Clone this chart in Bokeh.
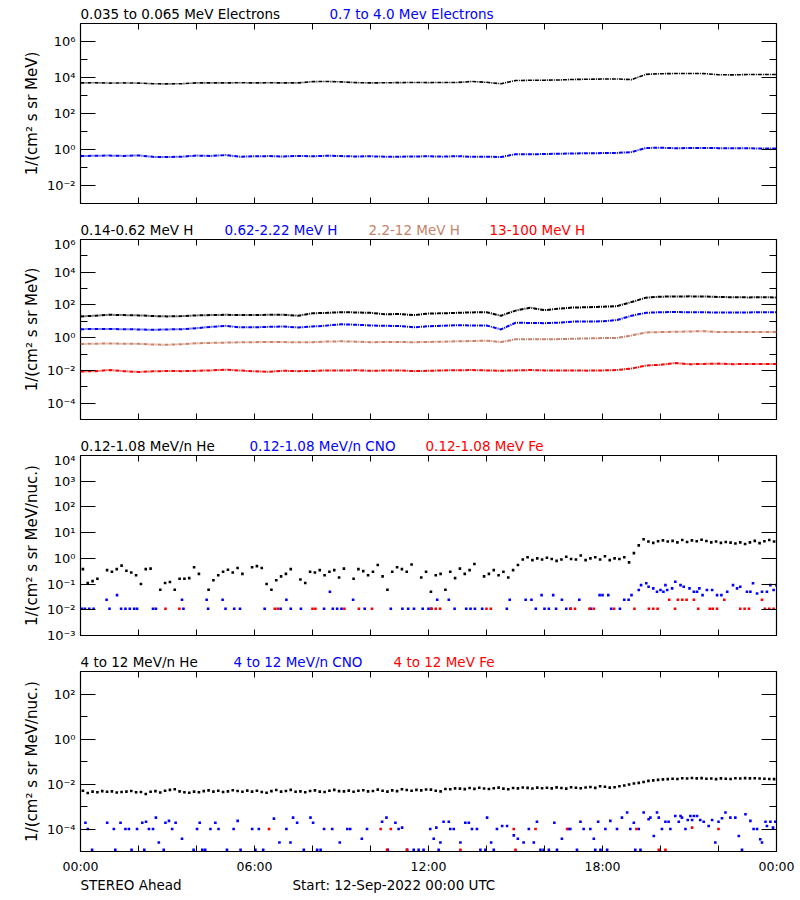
import numpy as np
from bokeh.plotting import figure
from bokeh.layouts import column
from bokeh.models import FixedTicker, LinearAxis, LogAxis
from bokeh.core.properties import value
from bokeh.embed import file_html
from bokeh.resources import INLINE

FONT = "DejaVu Sans"
BLACK, BLUE, BROWN, RED = "#000000", "#0000ff", "#c8826a", "#ff0000"

# ---------------- time axis ----------------
x_tick_hours = list(range(0, 25, 2))
x_tick_labels = {0: "00:00", 6: "06:00", 12: "12:00", 18: "18:00", 24: "00:00"}
hours_30min = np.arange(49) * 0.5          # 30-min samples, 00:00 .. 24:00
hours_10min = (np.arange(144) + 0.5) / 6.0  # 10-min samples

# ---------------- panel 1 : electrons ----------------
elec_lo = [5000, 5100, 4900, 5000, 4900, 4500, 4400, 4500, 5000, 5000,
           5000, 5100, 5000, 5100, 5000, 5000, 5900, 6000, 5700, 5200,
           5000, 5100, 5200, 5300, 5200, 5300, 5300, 6000, 5400, 4500,
           6800, 7000, 7100, 7300, 7800, 8000, 8200, 8300, 7600, 15000,
           16200, 16600, 16700, 16500, 14200, 14000, 14600, 14700, 14800]
elec_hi = [0.43, 0.45, 0.46, 0.44, 0.47, 0.39, 0.38, 0.40, 0.46, 0.44,
           0.49, 0.40, 0.42, 0.43, 0.41, 0.44, 0.42, 0.45, 0.43, 0.41,
           0.42, 0.40, 0.40, 0.41, 0.42, 0.40, 0.43, 0.39, 0.40, 0.38,
           0.55, 0.54, 0.56, 0.58, 0.60, 0.62, 0.63, 0.64, 0.72, 1.22,
           1.25, 1.18, 1.20, 1.23, 1.19, 1.16, 1.18, 1.12, 1.15]

# ---------------- panel 2 : protons ----------------
h_014_062 = [20, 22, 25, 24, 23, 21, 20, 21, 23, 24,
             25, 24, 24, 25, 25, 22, 31, 33, 36, 35,
             33, 27, 28, 24, 30, 31, 33, 35, 36, 22,
             45, 68, 48, 60, 70, 72, 78, 85, 150, 280,
             320, 330, 335, 330, 310, 295, 290, 292, 290]
h_062_222 = [3.3, 3.4, 3.4, 3.3, 3.2, 3.0, 3.2, 3.3, 3.8, 4.6,
             5.3, 4.3, 4.3, 4.6, 4.8, 4.2, 4.8, 5.5, 6.6, 6.2,
             5.6, 5.3, 5.2, 4.3, 5.0, 5.4, 5.8, 5.6, 5.6, 3.2,
             8.1, 8.0, 7.7, 8.3, 9.7, 9.7, 10.0, 12.0, 22.0, 33.0,
             36.0, 37.0, 36.0, 36.0, 34.0, 35.0, 35.0, 36.0, 36.0]
h_22_12 = [0.41, 0.43, 0.44, 0.43, 0.42, 0.38, 0.37, 0.40, 0.46, 0.48,
           0.50, 0.52, 0.53, 0.55, 0.54, 0.52, 0.53, 0.58, 0.60, 0.57,
           0.53, 0.54, 0.54, 0.53, 0.55, 0.57, 0.60, 0.62, 0.66, 0.54,
           0.79, 0.80, 0.80, 0.82, 0.86, 0.90, 0.95, 0.97, 1.37, 2.1,
           2.2, 2.3, 2.4, 2.5, 2.2, 2.2, 2.2, 2.2, 2.2]
h_13_100 = [0.0085, 0.0090, 0.0105, 0.0090, 0.0080, 0.0088, 0.0092, 0.0090, 0.0095, 0.0100,
            0.0110, 0.0098, 0.0088, 0.0082, 0.0095, 0.0090, 0.0092, 0.0100, 0.0098, 0.0102,
            0.0095, 0.0098, 0.0100, 0.0090, 0.0095, 0.0100, 0.0102, 0.0105, 0.0100, 0.0095,
            0.0100, 0.0105, 0.0100, 0.0098, 0.0100, 0.0097, 0.0100, 0.0105, 0.0130, 0.0200,
            0.0220, 0.0280, 0.0240, 0.0250, 0.0260, 0.0240, 0.0250, 0.0245, 0.0250]

# ---------------- panel 3 : 0.12-1.08 MeV/n heavy ions ----------------
he_low = [0.38, 0.11, 0.13, 0.16, None, 0.35,
          0.30, 0.38, 0.52, 0.33, 0.28, 0.22,
          0.10, 0.38, 0.40, None, 0.06, 0.11,
          0.12, 0.06, 0.16, 0.16, 0.17, 0.45,
          0.25, None, 0.06, 0.14, 0.22, 0.30,
          0.36, 0.28, 0.42, 0.25, None, 0.45,
          0.50, 0.42, 0.10, 0.06, 0.14, 0.20,
          0.25, 0.38, None, 0.15, 0.11, 0.30,
          0.28, 0.35, 0.22, 0.30, 0.35, 0.18,
          0.40, None, 0.16, 0.38, 0.32, 0.22,
          0.30, 0.55, 0.20, 0.06, 0.30, 0.45,
          0.38, 0.30, 0.58, None, 0.18, 0.30,
          0.05, 0.22, 0.25, 0.06, 0.30, 0.17,
          0.40, 0.25, 0.35, 0.60, None, 0.20,
          0.25, 0.35, 0.22, 0.30, 0.18, 0.35,
          0.55, 0.90, 1.10, 0.85, 1.00, 0.90,
          1.05, 0.95, 0.80, 0.90, 1.15, 0.95,
          0.90, 1.30, 0.85, 1.00, 1.10, 0.90,
          1.20, 0.85, 1.00, 0.95, 1.10, 0.70,
          1.60, 3.20, 5.50, 4.50, 4.00, 4.60,
          5.00, 4.50, 4.80, 4.20, 5.20, 4.30,
          5.00, 4.60, 5.30, 4.70, 4.20, 4.50,
          4.00, 4.30, 4.10, 3.80, 4.20, 3.60,
          4.20, 4.80, 3.90, 4.60, 5.20, 4.50]
cno_low_points = [
    (0.05, 0.011), (0.15, 0.011), (0.3, 0.011), (0.45, 0.011), (0.9, 0.0245), (1.0, 0.011),
    (1.26, 0.037), (1.4, 0.011), (1.55, 0.011), (1.7, 0.011), (1.85, 0.011), (1.95, 0.011),
    (2.5, 0.011), (2.6, 0.011), (3.5, 0.0245), (3.55, 0.011), (4.35, 0.0245), (4.4, 0.011),
    (4.9, 0.0245), (5.0, 0.011), (5.3, 0.011), (5.5, 0.011), (6.35, 0.011), (6.9, 0.011),
    (7.1, 0.0245), (7.25, 0.011), (7.6, 0.011), (8.4, 0.011), (8.6, 0.05), (8.7, 0.011),
    (8.85, 0.011), (9.0, 0.011), (9.4, 0.0245), (9.8, 0.011), (10.7, 0.011),
    (11.1, 0.011), (11.3, 0.011), (11.5, 0.011), (11.8, 0.011), (12.0, 0.011), (12.1, 0.011),
    (12.3, 0.0245), (12.7, 0.0245), (12.9, 0.011), (13.3, 0.011), (13.45, 0.011), (13.6, 0.011),
    (13.85, 0.011), (14.7, 0.011), (14.8, 0.0245), (15.35, 0.0245), (15.55, 0.0245), (15.7, 0.011),
    (15.9, 0.037), (16.0, 0.011), (16.15, 0.011), (16.3, 0.037), (16.4, 0.011), (16.6, 0.0245),
    (16.75, 0.011), (16.9, 0.011), (17.2, 0.0245), (17.6, 0.011), (17.9, 0.037), (18.0, 0.037),
    (18.2, 0.037), (18.3, 0.011), (18.6, 0.011), (18.75, 0.0245), (18.9, 0.0245), (19.0, 0.037),
    (19.25, 0.059), (19.33, 0.091), (19.51, 0.107), (19.59, 0.079), (19.75, 0.068), (19.88, 0.050),
    (20.0, 0.059), (20.1, 0.050), (20.17, 0.091), (20.23, 0.059), (20.4, 0.068), (20.51, 0.123),
    (20.69, 0.091), (20.8, 0.079), (21.0, 0.068), (21.15, 0.050), (21.26, 0.050), (21.34, 0.068),
    (21.45, 0.037), (21.6, 0.059), (21.78, 0.059), (21.95, 0.037), (22.1, 0.037), (22.3, 0.050),
    (22.5, 0.091), (22.64, 0.068), (22.75, 0.079), (22.98, 0.050), (23.1, 0.050), (23.19, 0.107),
    (23.33, 0.043), (23.5, 0.050), (23.67, 0.050), (23.79, 0.091), (23.9, 0.059), (24.0, 0.091)]
fe_low_points = [
    (2.93, 0.011), (3.41, 0.011), (6.7, 0.011), (6.8, 0.011), (8.0, 0.011), (8.1, 0.011),
    (9.1, 0.011), (9.6, 0.011), (10.05, 0.011), (12.1, 0.011), (12.25, 0.011), (12.4, 0.011),
    (14.0, 0.011), (14.15, 0.011), (16.9, 0.011), (17.05, 0.011), (17.55, 0.011), (17.7, 0.011),
    (18.4, 0.011), (19.1, 0.011), (19.6, 0.011), (19.75, 0.011), (19.9, 0.011), (20.3, 0.0245),
    (20.5, 0.011), (20.6, 0.0245), (20.75, 0.0245), (20.9, 0.0245), (21.15, 0.0245), (21.3, 0.011),
    (21.7, 0.011), (21.8, 0.011), (21.95, 0.011), (22.2, 0.0245), (22.75, 0.011), (22.9, 0.011),
    (23.05, 0.011), (23.5, 0.0245), (23.6, 0.011), (23.75, 0.011), (23.9, 0.011)]

# ---------------- panel 4 : 4-12 MeV/n heavy ions ----------------
he_high = [.0050, .0040, .0046, .0043, .0048, .0045, .0047, .0042, .0044, .0046, .0049, .0043,
           .0044, .0036, .0045, .0048, .0042, .0050, .0055, .0058, .0047, .0043, .0041, .0046,
           .0043, .0048, .0052, .0046, .0050, .0044, .0047, .0053, .0049, .0045, .0051, .0046,
           .0050, .0044, .0041, .0048, .0054, .0046, .0049, .0055, .0045, .0047, .0043, .0049,
           .0052, .0046, .0044, .0050, .0055, .0048, .0047, .0051, .0045, .0050, .0053, .0047,
           .0049, .0056, .0050, .0046, .0052, .0048, .0058, .0054, .0050, .0055, .0052, .0057,
           .0056, .0050, .0047, .0060, .0058, .0064, .0062, .0059, .0066, .0061, .0068, .0063,
           .0060, .0065, .0069, .0062, .0058, .0066, .0064, .0070, .0067, .0063, .0069, .0065,
           .0068, .0064, .0071, .0066, .0062, .0072, .0068, .0065, .0070, .0074, .0067, .0079,
           .0075, .0069, .0072, .0080, .0086, .0095, .0105, .0112, .0123, .0138, .0145, .0152,
           .0160, .0165, .0172, .0168, .0180, .0175, .0185, .0178, .0182, .0170, .0176, .0165,
           .0178, .0172, .0168, .0180, .0175, .0183, .0177, .0181, .0176, .0172, .0168, .0165]
cno_high_points = [
    (0.17, 1.9e-4), (0.25, 1.0e-4), (0.4, 1.2e-5), (0.92, 1.9e-4), (1.15, 1.0e-4), (1.2, 1.2e-5),
    (1.38, 1.9e-4), (1.55, 1.0e-4), (1.67, 1.0e-4), (1.76, 1.2e-5), (1.95, 1.0e-4), (2.13, 1.9e-4),
    (2.2, 1.2e-5), (2.26, 2.1e-4), (2.36, 1.0e-4), (2.5, 1.0e-4), (2.6, 3.2e-4), (2.7, 2.5e-5),
    (2.87, 1.2e-5), (2.93, 1.9e-4), (3.05, 2.3e-4), (3.16, 1.0e-4), (3.28, 1.9e-4), (3.5, 3.7e-5),
    (3.9, 1.2e-5), (4.02, 1.0e-4), (4.11, 1.9e-4), (4.2, 1.2e-5), (4.3, 1.2e-5), (4.48, 1.0e-4),
    (4.65, 1.9e-4), (4.76, 1.0e-4), (5.05, 1.2e-5), (5.28, 1.0e-4), (5.42, 2.3e-4), (5.52, 1.2e-5),
    (5.92, 1.0e-4), (6.03, 1.2e-5), (6.15, 1.0e-4), (6.3, 1.2e-5), (6.67, 2.9e-4), (6.86, 2.5e-5),
    (7.1, 1.0e-4), (7.24, 2.5e-5), (7.33, 3.2e-4), (7.47, 1.9e-4), (7.7, 1.2e-5), (7.93, 3.2e-4),
    (8.02, 1.9e-4), (8.16, 1.2e-5), (8.28, 1.2e-5), (8.4, 1.0e-4), (8.68, 1.0e-4), (8.94, 2.5e-5),
    (9.2, 1.0e-4), (9.3, 1.0e-4), (9.7, 3.7e-5), (9.88, 1.0e-4), (10.4, 2.1e-4), (10.55, 3.2e-4),
    (10.6, 1.2e-5), (10.86, 1.9e-4), (10.97, 1.0e-4),
    (11.09, 1.15e-4), (11.26, 1.2e-5), (11.49, 1.2e-5), (11.66, 1.2e-5), (11.83, 1.2e-5),
    (12.06, 1.0e-4), (12.18, 3.7e-5), (12.27, 1.15e-4), (12.35, 1.2e-5), (12.41, 2.5e-5),
    (12.52, 2.1e-4), (12.7, 2.1e-4), (12.75, 1.0e-4), (12.87, 1.0e-4), (13.1, 2.5e-5),
    (13.27, 1.9e-4), (13.39, 1.9e-4), (13.5, 1.0e-4), (13.67, 1.0e-4), (13.79, 1.2e-5),
    (13.96, 1.2e-5), (14.02, 3.2e-4), (14.16, 2.5e-5), (14.25, 1.2e-5), (14.36, 1.0e-4),
    (14.54, 1.35e-4), (14.71, 1.35e-4), (14.94, 5.2e-5), (15.08, 3.7e-5), (15.28, 2.5e-5),
    (15.46, 1.0e-4), (15.63, 2.5e-5), (15.74, 2.1e-4), (15.86, 1.2e-5), (15.97, 1.2e-5),
    (16.15, 1.2e-5), (16.34, 1.9e-4), (16.43, 1.2e-5), (16.6, 3.7e-5), (16.83, 1.0e-4),
    (16.89, 1.0e-4), (17.12, 1.2e-5), (17.24, 2.1e-4), (17.35, 1.0e-4), (17.58, 1.0e-4),
    (17.7, 3.7e-5), (17.75, 1.2e-5), (17.85, 2.1e-4), (17.93, 1.2e-5), (18.1, 1.0e-4),
    (18.16, 1.2e-5), (18.27, 2.3e-4), (18.5, 1.0e-4), (18.67, 3.2e-4), (18.85, 5.4e-4),
    (18.96, 1.0e-4), (19.08, 1.9e-4), (19.13, 1.2e-5), (19.25, 1.0e-4), (19.31, 1.2e-5),
    (19.42, 5.4e-4), (19.59, 2.7e-4), (19.65, 3.2e-4), (19.77, 4.9e-5), (19.88, 5.4e-4),
    (19.94, 3.2e-4), (20.05, 1.0e-4), (20.17, 2.1e-4), (20.28, 2.1e-4), (20.34, 1.0e-4),
    (20.51, 3.8e-4), (20.63, 2.1e-4), (20.69, 3.8e-4), (20.74, 3.2e-4), (20.86, 1.0e-4),
    (20.94, 2.5e-4), (21.03, 3.8e-4), (21.09, 2.5e-4), (21.15, 3.8e-4), (21.26, 3.8e-4),
    (21.37, 2.5e-4), (21.49, 2.1e-4), (21.66, 1.35e-4), (21.78, 2.5e-4), (21.89, 2.5e-5),
    (22.0, 2.1e-4), (22.12, 3.0e-4), (22.24, 5.4e-4), (22.41, 3.2e-4), (22.58, 3.2e-4),
    (22.7, 4.9e-5), (22.81, 1.2e-5), (22.93, 4.5e-4), (23.1, 2.3e-4), (23.21, 1.0e-4),
    (23.33, 1.0e-4), (23.44, 3.5e-5), (23.5, 2.5e-5), (23.62, 2.1e-4), (23.67, 1.35e-4),
    (23.79, 2.1e-4), (23.88, 1.15e-4), (23.96, 2.1e-4)]
fe_high_points = [
    (6.5, 1.0e-4), (10.35, 1.0e-4), (10.57, 1.2e-5), (10.7, 1.0e-4), (11.26, 1.2e-5), (13.1, 1.2e-5),
    (14.94, 1.0e-4), (15.0, 1.2e-5), (15.69, 1.0e-4), (16.78, 1.0e-4), (19.17, 1.0e-4),
    (19.94, 1.2e-5), (20.17, 1.2e-5), (21.09, 1.15e-4), (22.0, 1.0e-4)]

# ---------------- panel texts ----------------
ylabel_flux = "1/(cm² s sr MeV)"
ylabel_nuc = "1/(cm² s sr MeV/nuc.)"
p1_titles = ["0.035 to 0.065 MeV Electrons", "0.7 to 4.0 Mev Electrons"]
p2_titles = ["0.14-0.62 MeV H", "0.62-2.22 MeV H", "2.2-12 MeV H", "13-100 MeV H"]
p3_titles = ["0.12-1.08 MeV/n He", "0.12-1.08 MeV/n CNO", "0.12-1.08 MeV Fe"]
p4_titles = ["4 to 12 MeV/n He", "4 to 12 MeV/n CNO", "4 to 12 MeV Fe"]
footer_texts = ["STEREO Ahead", "Start: 12-Sep-2022 00:00 UTC"]

# layout (pixels)
W, FRAME_L, FRAME_W, FRAME_H = 800, 80, 696, 180
FRAME_R = W - FRAME_L - FRAME_W
TITLE_H = 20
p1_title_x = [0, 249]
p2_title_x = [0, 144, 288, 409]
p3_title_x = [0, 169, 345]
p4_title_x = [0, 153, 313]
footer_x = [0, 212]

SUP = str.maketrans("-0123456789", "⁻⁰¹²³⁴⁵⁶⁷⁸⁹")


def dec_label(e):
    return "10" + str(e).translate(SUP)


def text_strip(texts, colors, offsets, height, y_from_top, size="13.5px"):
    """A thin axis-less strip, frame-aligned with the panels, carrying coloured titles."""
    s = figure(width=W, height=height, x_range=(0, FRAME_W), y_range=(0, height),
               x_axis_location=None, y_axis_location=None,
               min_border_left=FRAME_L, min_border_right=FRAME_R,
               min_border_top=0, min_border_bottom=0,
               output_backend="svg", toolbar_location=None, outline_line_color=None,
               background_fill_color="white", border_fill_color="white")
    s.grid.visible = False
    s.text(x=offsets, y=[height - y_from_top] * len(texts),
           text=texts, text_color=colors, text_font=value(FONT),
           text_font_size=value(size), text_baseline="middle", text_align="left")
    return s


def make_panel(exp_range, major_exp, minor_exp, ylabel, bottom, show_x):
    ymin, ymax = 10.0 ** exp_range[0], 10.0 ** exp_range[1]
    p = figure(frame_width=FRAME_W, frame_height=FRAME_H, x_range=(0, 24), y_range=(ymin, ymax),
               y_axis_type="log", output_backend="svg", toolbar_location=None,
               min_border_left=FRAME_L, min_border_right=FRAME_R, min_border_top=3,
               min_border_bottom=bottom, outline_line_color="black", outline_line_width=1.2,
               background_fill_color="white", border_fill_color="white")
    p.grid.visible = False
    majors = [10.0 ** e for e in major_exp]
    minors = [10.0 ** e for e in minor_exp]

    def yticker():
        return FixedTicker(ticks=majors, minor_ticks=minors)

    def xticker():
        return FixedTicker(ticks=x_tick_hours, minor_ticks=[])

    ya = p.yaxis[0]
    ya.ticker = yticker()
    ya.major_label_overrides = {v: dec_label(e) for v, e in zip(majors, major_exp)}
    ya.axis_line_color = None
    ya.major_tick_in, ya.major_tick_out = 15, 0
    ya.minor_tick_in, ya.minor_tick_out = 7, 0
    ya.major_tick_line_color = "black"
    ya.minor_tick_line_color = "black"
    ya.major_label_text_font = FONT
    ya.major_label_text_font_size = "13px"
    ya.major_label_text_color = "black"
    ya.major_label_standoff = 5
    ya.axis_label = ylabel
    ya.axis_label_text_font = FONT
    ya.axis_label_text_font_size = "15px"
    ya.axis_label_text_font_style = "normal"
    ya.axis_label_text_color = "black"
    ya.axis_label_standoff = 3

    yr = LogAxis(ticker=yticker(), axis_line_color=None, major_tick_in=15, major_tick_out=0,
                 minor_tick_in=7, minor_tick_out=0, major_label_standoff=0,
                 major_label_text_font_size="0px",
                 major_label_overrides={v: "" for v in majors})
    p.add_layout(yr, "right")

    xa = p.xaxis[0]
    xa.ticker = xticker()
    xa.axis_line_color = None
    xa.major_tick_in, xa.major_tick_out = 6, 0
    xa.minor_tick_line_color = None
    if show_x:
        xa.major_label_overrides = {h: x_tick_labels.get(h, "") for h in x_tick_hours}
        xa.major_label_text_font = FONT
        xa.major_label_text_font_size = "12.5px"
        xa.major_label_text_color = "black"
        xa.major_label_standoff = 7
    else:
        xa.major_label_overrides = {h: "" for h in x_tick_hours}
        xa.major_label_text_font_size = "0px"
        xa.major_label_standoff = 0

    xt = LinearAxis(ticker=xticker(), axis_line_color=None, major_tick_in=6, major_tick_out=0,
                    minor_tick_line_color=None, major_label_standoff=0,
                    major_label_text_font_size="0px",
                    major_label_overrides={h: "" for h in x_tick_hours})
    p.add_layout(xt, "above")
    return p


def dashed(p, y, color, width=2.0):
    p.line(hours_30min, y, line_color=color, line_width=width, line_dash="4 1 1 1")


def dots(p, x, y, color, size=2.6):
    p.scatter(x, np.array(y, dtype=float), marker="square", size=size,
              fill_color=color, line_color=None)


def pts(points):
    t, v = zip(*points)
    return list(t), list(v)


# panel 1
t1 = text_strip(p1_titles, [BLACK, BLUE], p1_title_x, TITLE_H, 13)
p1 = make_panel((-3, 7), [-2, 0, 2, 4, 6], [-1, 1, 3, 5], ylabel_flux, 13, False)
dashed(p1, elec_lo, BLACK, 1.6)
dashed(p1, elec_hi, BLUE, 2.0)

# panel 2
t2 = text_strip(p2_titles, [BLACK, BLUE, BROWN, RED], p2_title_x, TITLE_H, 13)
p2 = make_panel((-5, 6), [-4, -2, 0, 2, 4, 6], [-3, -1, 1, 3, 5], ylabel_flux, 13, False)
dashed(p2, h_014_062, BLACK)
dashed(p2, h_062_222, BLUE)
dashed(p2, h_22_12, BROWN)
dashed(p2, h_13_100, RED)

# panel 3
t3 = text_strip(p3_titles, [BLACK, BLUE, RED], p3_title_x, TITLE_H, 13)
p3 = make_panel((-3, 4), [-3, -2, -1, 0, 1, 2, 3, 4], [], ylabel_nuc, 13, False)
dots(p3, hours_10min, he_low, BLACK)
t, v = pts(cno_low_points)
dots(p3, t, v, BLUE)
t, v = pts(fe_low_points)
dots(p3, t, v, RED)

# panel 4
t4 = text_strip(p4_titles, [BLACK, BLUE, RED], p4_title_x, TITLE_H, 13)
p4 = make_panel((-5, 3), [-4, -2, 0, 2], [-3, -1, 1], ylabel_nuc, 22, True)
dots(p4, hours_10min, he_high, BLACK)
t, v = pts(cno_high_points)
dots(p4, t, v, BLUE)
t, v = pts(fe_high_points)
dots(p4, t, v, RED)

foot = text_strip(footer_texts, [BLACK, BLACK], footer_x, 27, 8, size="13.5px")

layout = column(t1, p1, t2, p2, t3, p3, t4, p4, foot, spacing=0)
open("out.html", "w").write(file_html(layout, INLINE))
